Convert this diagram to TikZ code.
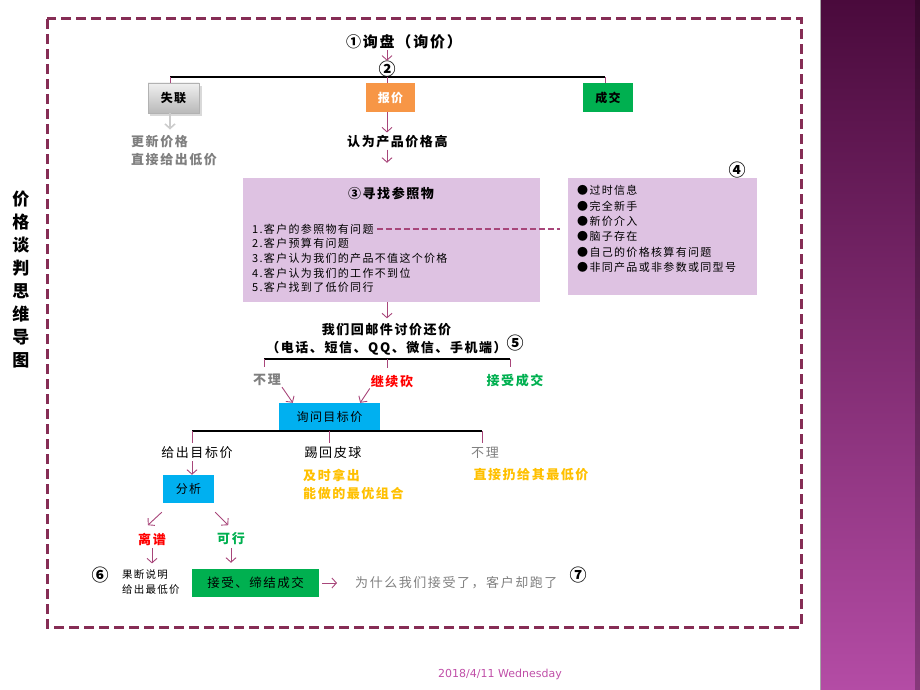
\documentclass[tikz,border=0pt]{standalone}
\usepackage{fontspec}
\setmainfont{DejaVu Sans}
\newfontfamily\cjk[LetterSpace=12]{Noto Sans CJK SC}
\newfontfamily\cjktight{Noto Sans CJK SC}
\usetikzlibrary{arrows.meta}
\definecolor{framemaroon}{HTML}{862D55}
\definecolor{arrowrose}{HTML}{A8467A}
\definecolor{lilac}{HTML}{DEC2E2}
\definecolor{quoteorange}{HTML}{F79646}
\definecolor{dealgreen}{HTML}{00B050}
\definecolor{askblue}{HTML}{00B0F0}
\definecolor{goldtext}{HTML}{FFC000}
\definecolor{greytext}{HTML}{7F7F7F}
\definecolor{bardark}{HTML}{4A0A3C}
\definecolor{barlight}{HTML}{B44CA5}
\definecolor{datepink}{HTML}{C04FA8}

\begin{document}
\begin{tikzpicture}[x=1pt,y=-1pt]
\tikzstyle{frame edge} = [draw, color=framemaroon, line width=3pt, dash pattern=on 10pt off 5pt]
\tikzstyle{bar edge} = [draw, color=black, line width=1.8pt]
\tikzstyle{tick edge} = [draw, color=arrowrose, line width=0.9pt]
\tikzstyle{flow arrow} = [draw, color=arrowrose, line width=0.9pt, -{Straight Barb[length=4.5pt,width=10pt]}]
\tikzstyle{grey arrow} = [flow arrow, color=gray!40, line width=1.6pt]
\tikzstyle{link edge} = [draw, color=arrowrose, line width=1.3pt, dash pattern=on 6pt off 3pt]
\tikzstyle{fill box} = [inner sep=0pt, font=\cjk\fontsize{12}{14}\selectfont]
\tikzstyle{head text} = [inner sep=1pt, font=\cjk\fontsize{13}{18}\selectfont\bfseries]
\tikzstyle{plain text} = [inner sep=1pt, font=\cjk\fontsize{13}{18}\selectfont]
\tikzstyle{list text} = [inner sep=0pt, anchor=west, font=\cjk\fontsize{11}{12}\selectfont]
\tikzstyle{number mark} = [inner sep=0pt, font=\cjktight\fontsize{17}{17}\selectfont\bfseries]
\useasboundingbox (0,0) rectangle (920,690);
% side bar
\shade[top color=bardark, bottom color=barlight] (820,0) rectangle (920,690);
\fill[black, opacity=0.25] (915,0) rectangle (920,690);
\draw[gray!70, line width=0.8pt] (820,0) -- (820,690);
\path[frame edge] (47,19) rectangle (801,627);
\node[inner sep=0pt, align=center, font=\cjktight\fontsize{17}{23}\selectfont\bfseries] (title) at (21,280) {价\\格\\谈\\判\\思\\维\\导\\图};
\coordinate (c_1) at (170,77);
\coordinate (c_2) at (387,77);
\coordinate (c_3) at (605,77);
\coordinate (c_4) at (264,359);
\coordinate (c_5) at (387,359);
\coordinate (c_6) at (510,359);
\coordinate (c_7) at (192,431);
\coordinate (c_8) at (329,431);
\coordinate (c_9) at (482,431);
% top level
\node[head text, font=\cjk\fontsize{15}{17}\selectfont\bfseries] (inquiry) at (404,42) {①询盘（询价）};
\node[number mark] (num2) at (387,69) {②};
\fill[black, opacity=0.15] (150,86) rectangle (202,116);
\node[fill box, minimum width=51pt, minimum height=30pt, top color=gray!12, bottom color=gray!55, draw=gray!60, font=\cjk\fontsize{12}{14}\selectfont\bfseries] (lost) at (173.5,98) {失联};
\node[fill box, minimum width=49pt, minimum height=29pt, fill=quoteorange, text=white, font=\cjk\fontsize{12}{14}\selectfont\bfseries] (quote) at (390.5,97.5) {报价};
\node[fill box, minimum width=50pt, minimum height=29pt, fill=dealgreen, font=\cjk\fontsize{12}{14}\selectfont\bfseries] (deal) at (608,97.5) {成交};
\node[head text, anchor=west, align=left, text=greytext] (lostnote) at (130,151) {更新价格\\直接给出低价};
\node[head text, anchor=west] (high) at (346,142) {认为产品价格高};
\path[flow arrow] (inquiry.south -| num2) -- (num2.north);
\path[bar edge] (c_1) -- (c_3);
\path[tick edge] (c_1) -- (lost.north -| c_1);
\path[tick edge] (c_2) -- (quote.north -| c_2);
\path[tick edge] (c_3) -- (deal.north -| c_3);
\path[grey arrow, shorten >=5pt] (lost.south -| c_1) -- (lostnote.north -| c_1);
\path[flow arrow, shorten >=2pt] (quote.south -| c_2) -- (high.north -| c_2);
% reference box
\node[inner sep=0pt, minimum width=297pt, minimum height=124pt, fill=lilac] (refbox) at (391.5,240) {};
\node[head text] (reftitle) at (391,193) {③寻找参照物};
\node[list text] (item_1) at (252,229) {1.客户的参照物有问题};
\node[list text] (item_2) at (252,243) {2.客户预算有问题};
\node[list text] (item_3) at (252,258) {3.客户认为我们的产品不值这个价格};
\node[list text] (item_4) at (252,273) {4.客户认为我们的工作不到位};
\node[list text] (item_5) at (252,287) {5.客户找到了低价同行};
\path[flow arrow, shorten >=15pt] (high.south -| c_2) -- (refbox.north -| c_2);
\node[inner sep=0pt, minimum width=189pt, minimum height=117pt, fill=lilac] (factbox) at (662.5,236.5) {};
\node[number mark] (num4) at (737,170) {④};
\node[list text] (fact_1) at (577,190) {●过时信息};
\node[list text] (fact_2) at (577,206) {●完全新手};
\node[list text] (fact_3) at (577,221) {●新价介入};
\node[list text] (fact_4) at (577,236) {●脑子存在};
\node[list text] (fact_5) at (577,252) {●自己的价格核算有问题};
\node[list text] (fact_6) at (577,267) {●非同产品或非参数或同型号};
\path[link edge, shorten <=3pt, shorten >=8pt] (item_1.east) -- (item_1.east -| factbox.west);
% haggling
\node[head text, align=center] (haggle) at (386.5,339.5) {我们回邮件讨价还价\\（电话、短信、QQ、微信、手机端）};
\node[number mark] (num5) at (515,343) {⑤};
\path[flow arrow, shorten >=4pt] (refbox.south -| c_5) -- (haggle.north -| c_5);
\path[bar edge] (c_4) -- (c_6);
\node[head text, text=greytext] (ignore_1) at (267,380) {不理};
\node[head text, text=red] (cut) at (392,381) {继续砍};
\node[head text, text=dealgreen] (accept) at (515,381) {接受成交};
\path[tick edge, shorten >=6pt] (c_4) -- (ignore_1.north -| c_4);
\path[tick edge, shorten >=6pt] (c_5) -- (cut.north -| c_5);
\path[tick edge, shorten >=6pt] (c_6) -- (accept.north -| c_6);
\node[fill box, minimum width=101pt, minimum height=27pt, fill=askblue] (askbox) at (329.5,416.5) {询问目标价};
\path[flow arrow] (ignore_1.south east) -- ([xshift=14pt]askbox.north west);
\path[flow arrow] (cut.south west) -- ([xshift=-20pt]askbox.north east);
% target price
\path[bar edge] (c_7) -- (c_9);
\node[plain text] (goal) at (197,453) {给出目标价};
\node[plain text] (kick) at (333,453) {踢回皮球};
\node[plain text, text=greytext] (ignore_2) at (485,453) {不理};
\path[tick edge, shorten >=3pt] (c_7) -- (goal.north -| c_7);
\path[tick edge, shorten >=3pt] (c_8) -- (kick.north -| c_8);
\path[tick edge, shorten >=3pt] (c_9) -- (ignore_2.north -| c_9);
\node[head text, anchor=west, align=left, text=goldtext] (combo) at (302,484) {及时拿出\\能做的最优组合};
\node[head text, text=goldtext] (lowest) at (531,475) {直接扔给其最低价};
\node[fill box, minimum width=51pt, minimum height=28pt, fill=askblue] (analyse) at (188.5,489) {分析};
\path[flow arrow, shorten <=1pt] (goal.south -| c_7) -- (analyse.north -| c_7);
\node[head text, text=red] (absurd) at (152,539) {离谱};
\node[head text, text=dealgreen] (feasible) at (231,539) {可行};
\path[flow arrow] ([xshift=-1pt,yshift=-9pt]analyse.south west) -- ([xshift=-15pt,yshift=-22pt]analyse.south west);
\path[flow arrow] ([xshift=1pt,yshift=-9pt]analyse.south east) -- ([xshift=14pt,yshift=-22pt]analyse.south east);
% closing
\node[number mark] (num6) at (100,575) {⑥};
\node[inner sep=0pt, anchor=west, align=left, font=\cjk\fontsize{10.5}{15}\selectfont] (explain) at (122,582) {果断说明\\给出最低价};
\node[fill box, minimum width=127pt, minimum height=28pt, fill=dealgreen, font=\cjk\fontsize{12.5}{14}\selectfont] (close) at (255.5,583) {接受、缔结成交};
\path[flow arrow, shorten <=2pt, shorten >=6pt] (absurd.south) -- (absurd.south |- explain.north);
\path[flow arrow, shorten <=2pt, shorten >=6pt] (feasible.south) -- (feasible.south |- close.north);
\node[plain text, anchor=west, text=greytext] (why) at (354,583) {为什么我们接受了，客户却跑了};
\path[flow arrow, shorten <=3pt, shorten >=17pt] (close.east) -- (why.west);
\node[number mark] (num7) at (578,575) {⑦};
\node[inner sep=0pt, text=datepink, font=\fontsize{11}{13}\selectfont] (date) at (500,674) {2018/4/11 Wednesday};
\end{tikzpicture}
\end{document}
